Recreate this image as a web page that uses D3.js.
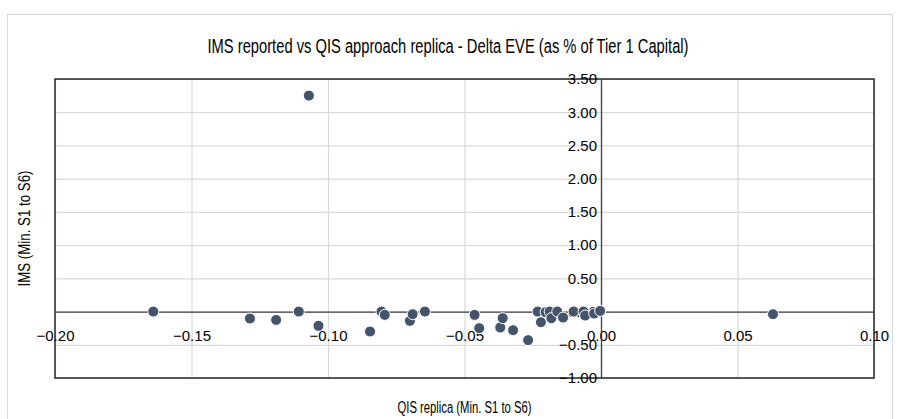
<!DOCTYPE html>
<html>
<head>
<meta charset="utf-8">
<script src="https://cdn.jsdelivr.net/npm/d3@7"></script>
<style>
  body { margin: 0; background: #fff; }
  text { font-family: "Liberation Sans", Arial, sans-serif; fill: #000; }
</style>
</head>
<body>
<svg id="chart" width="898" height="419"></svg>
<script>
// QIS replica (x) vs IMS reported (y)
const qisReplica = [-0.107, -0.164, -0.1286, -0.119, -0.1107, -0.1035, -0.0846, -0.0804, -0.0792,
  -0.070, -0.069, -0.0645, -0.0463, -0.0446, -0.0369, -0.036, -0.0322, -0.0267, -0.0232,
  -0.022, -0.0203, -0.0188, -0.0182, -0.016, -0.0139, -0.010, -0.0064, -0.0058, -0.0025, -0.0003, 0.063]
const imsReported = [3.25, 0.00, -0.105, -0.126, 0.00, -0.215, -0.30, 0.00, -0.05,
  -0.14, -0.04, 0.00, -0.05, -0.25, -0.24, -0.10, -0.28, -0.43, 0.00,
  -0.16, -0.01, 0.00, -0.10, 0.00, -0.09, 0.00, 0.00, -0.06, -0.03, 0.01, -0.04]

const xTicks = [-0.20, -0.15, -0.10, -0.05, 0.00, 0.05, 0.10]
const yTicks = [-1.00, -0.50, 0.00, 0.50, 1.00, 1.50, 2.00, 2.50, 3.00, 3.50]

const chartTitle = "IMS reported vs QIS approach replica - Delta EVE (as % of Tier 1 Capital)"
const xTitle = "QIS replica (Min. S1 to S6)"
const yTitle = "IMS (Min. S1 to S6)"

const points = qisReplica.map((q, i) => ({ x: q, y: imsReported[i] }))

const svg = d3.select("#chart")
const plot = { left: 55, right: 874, top: 79, bottom: 378 }

const x = d3.scaleLinear().domain([-0.20, 0.10]).range([plot.left, plot.right])
const y = d3.scaleLinear().domain([-1.00, 3.50]).range([plot.bottom, plot.top])

// outer chart border
svg.append("rect")
  .attr("x", 7.5).attr("y", 14.5)
  .attr("width", 885).attr("height", 430)
  .attr("fill", "none").attr("stroke", "#d9d9d9")

svg.append("text")
  .attr("x", 448).attr("y", 53)
  .attr("text-anchor", "middle")
  .style("font-family", "'Liberation Sans Narrow', sans-serif")
  .style("font-size", "20px")
  .attr("textLength", 481).attr("lengthAdjust", "spacingAndGlyphs")
  .text(chartTitle)

// gridlines
svg.append("g")
  .attr("transform", `translate(0,${plot.bottom})`)
  .call(d3.axisBottom(x).tickValues(xTicks).tickSize(-(plot.bottom - plot.top)).tickFormat(""))
  .call(g => g.select(".domain").remove())
  .call(g => g.selectAll("line").attr("stroke", "#d9d9d9").attr("stroke-width", 1.2))

svg.append("g")
  .attr("transform", `translate(${plot.left},0)`)
  .call(d3.axisLeft(y).tickValues(yTicks).tickSize(-(plot.right - plot.left)).tickFormat(""))
  .call(g => g.select(".domain").remove())
  .call(g => g.selectAll("line").attr("stroke", "#d9d9d9").attr("stroke-width", 1.2))

// plot area border
svg.append("rect")
  .attr("x", plot.left).attr("y", plot.top)
  .attr("width", plot.right - plot.left).attr("height", plot.bottom - plot.top)
  .attr("fill", "none").attr("stroke", "#262626").attr("stroke-width", 1.5)

// axes crossing at zero
const xAxis = svg.append("g")
  .attr("transform", `translate(0,${y(0)})`)
  .call(d3.axisBottom(x).tickValues(xTicks).tickSize(0).tickPadding(19).tickFormat(d3.format(".2f")))
xAxis.select(".domain").attr("stroke", "#404040").attr("stroke-width", 1.3)
xAxis.selectAll("text").style("font-size", "15px").attr("fill", "#000")

const yAxis = svg.append("g")
  .attr("transform", `translate(${x(0)},0)`)
  .call(d3.axisLeft(y).tickValues(yTicks).tickSize(0).tickPadding(4).tickFormat(d3.format(".2f")))
yAxis.select(".domain").attr("stroke", "#404040").attr("stroke-width", 1.3)
yAxis.selectAll("text").style("font-size", "15px").attr("fill", "#000")

// markers
svg.append("g").selectAll("circle")
  .data(points)
  .enter().append("circle")
  .attr("cx", d => x(d.x))
  .attr("cy", d => y(d.y))
  .attr("r", 5.5)
  .attr("fill", "#44546a")
  .attr("stroke", "#fff")
  .attr("stroke-width", 1)

// axis titles
svg.append("text")
  .attr("x", (plot.left + plot.right) / 2).attr("y", 413)
  .attr("text-anchor", "middle")
  .style("font-family", "'Liberation Sans Narrow', sans-serif")
  .style("font-size", "16px")
  .attr("textLength", 134).attr("lengthAdjust", "spacingAndGlyphs")
  .text(xTitle)

svg.append("text")
  .attr("transform", `translate(30,${(plot.top + plot.bottom) / 2}) rotate(-90)`)
  .attr("text-anchor", "middle")
  .style("font-family", "'Liberation Sans Narrow', sans-serif")
  .style("font-size", "16px")
  .attr("textLength", 116).attr("lengthAdjust", "spacingAndGlyphs")
  .text(yTitle)
</script>
</body>
</html>
